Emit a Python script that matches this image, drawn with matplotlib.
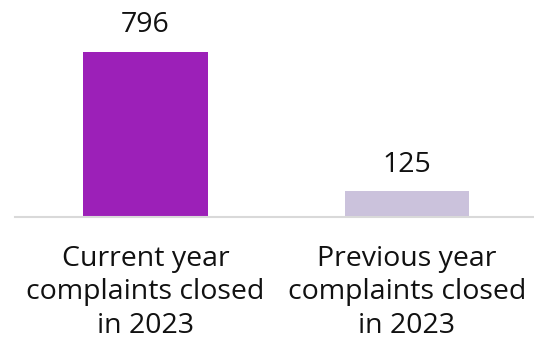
import matplotlib
matplotlib.use("Agg")
import matplotlib.pyplot as plt

categories = ["Current year\ncomplaints closed\nin 2023", "Previous year\ncomplaints closed\nin 2023"]
values = [796, 125]
colors = ["#9C20B8", "#CBC2DC"]

plt.rcParams['font.family'] = ['Open Sans', 'DejaVu Sans']

W, H = 534, 342
fig = plt.figure(figsize=(W/100, H/100), dpi=100)
left = 14.75 / W
width = 523 / W
bottom = (H - 217) / H
height = 217 / H
ax = fig.add_axes([left, bottom, width, height])

x = list(range(len(categories)))
bars = ax.bar(x, values, width=0.476, color=colors, zorder=2)
ax.set_xlim(-0.5, 1.5)
ax.set_ylim(0, 1045)

for xi, v in zip(x, values):
    ax.annotate(str(v), (xi, v), xytext=(0, 9), textcoords="offset points",
                ha="center", va="bottom", fontsize=20.5, color="#111111")

for s in ["top", "right", "left"]:
    ax.spines[s].set_visible(False)
ax.spines["bottom"].set_color("#D9D9D9")
ax.spines["bottom"].set_linewidth(1.5)
ax.set_yticks([])
ax.set_xticks(x)
ax.set_xticklabels(categories, fontsize=20.5, color="#111111", linespacing=1.27)
ax.tick_params(axis="x", length=0, pad=20)

fig.savefig("out.png", dpi=100)
